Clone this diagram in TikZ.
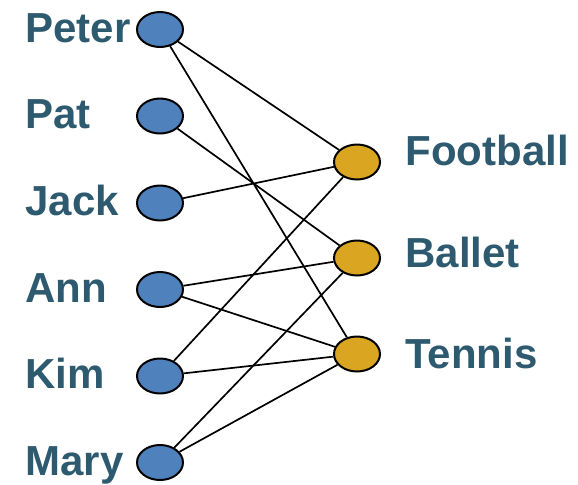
\documentclass[tikz,border=0pt]{standalone}
\usepackage{fontspec}
\setmainfont{Liberation Sans}
\usetikzlibrary{shapes.geometric}
\definecolor{namecol}{RGB}{46,90,112}
\definecolor{kidblue}{RGB}{79,129,189}
\definecolor{sportgold}{RGB}{218,165,32}
\tikzset{
	kid/.style={ellipse,draw=black,line width=1pt,fill=kidblue,minimum width=23pt,minimum height=17.5pt,inner sep=0pt},
	sport/.style={kid,fill=sportgold},
	lbl/.style={text=namecol,font=\fontsize{21}{24}\selectfont\bfseries,inner sep=0pt,anchor=base west},
	match/.style={line width=0.85pt}
}
\begin{document}
\begin{tikzpicture}[x=0.5pt,y=-0.5pt]
	\useasboundingbox (0,0) rectangle (578,484);
	% children
	\node[kid] (peter) at (160,29.5) {};
	\node[kid] (pat) at (160,116) {};
	\node[kid] (jack) at (160,203) {};
	\node[kid] (ann) at (160,289.5) {};
	\node[kid] (kim) at (160,376) {};
	\node[kid] (mary) at (160,462.5) {};
	\node[lbl] (peterlbl) at (25,42) {Peter};
	\node[lbl] (patlbl) at (25,128) {Pat};
	\node[lbl] (jacklbl) at (25,215) {Jack};
	\node[lbl] (annlbl) at (25,302) {Ann};
	\node[lbl] (kimlbl) at (25,388) {Kim};
	\node[lbl] (marylbl) at (25,475) {Mary};
	% sports
	\node[sport] (football) at (357,162) {};
	\node[sport] (ballet) at (357,258) {};
	\node[sport] (tennis) at (357,354) {};
	\node[lbl] (footballlbl) at (405,165) {Football};
	\node[lbl] (balletlbl) at (405,267) {Ballet};
	\node[lbl] (tennislbl) at (405,368) {Tennis};
	% who likes what
	\draw[match] (peter) -- (football);
	\draw[match] (peter) -- (tennis);
	\draw[match] (pat) -- (ballet);
	\draw[match] (jack) -- (football);
	\draw[match] (ann) -- (ballet);
	\draw[match] (ann) -- (tennis);
	\draw[match] (kim) -- (football);
	\draw[match] (kim) -- (tennis);
	\draw[match] (mary) -- (ballet);
	\draw[match] (mary) -- (tennis);
\end{tikzpicture}
\end{document}
